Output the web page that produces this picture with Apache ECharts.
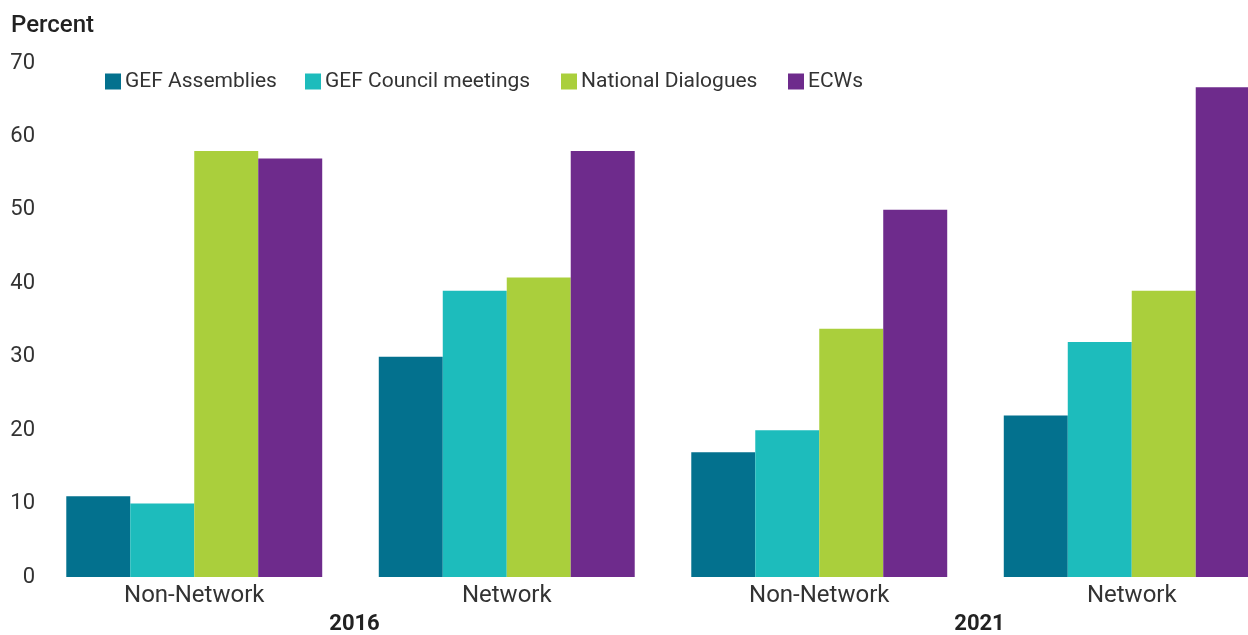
<!DOCTYPE html>
<html>
<head>
<meta charset="utf-8">
<script src="https://cdn.jsdelivr.net/npm/echarts@6/dist/echarts.min.js"></script>
<style>
  html, body { margin: 0; padding: 0; overflow: hidden; background: #fff; }
  #chart { width: 1300px; height: 635px; }
</style>
</head>
<body>
<div id="chart"></div>
<script>
// groups along the x axis, and the year each pair belongs to
const categories = ['Non-Network', 'Network', 'Non-Network', 'Network'];
const years = ['2016', '2021'];
const yTicks = [0, 10, 20, 30, 40, 50, 60, 70];

const gefAssemblies = [11, 30, 17, 22];
const gefCouncil = [10, 39, 20, 32];
const nationalDialogues = [58, 40.8, 33.8, 39];
const ecws = [57, 58, 50, 66.7];

const seriesNames = ['GEF Assemblies', 'GEF Council meetings', 'National Dialogues', 'ECWs'];

const font = 'Roboto, "Noto Sans", sans-serif';
const textColor = '#333';

const chart = echarts.init(document.getElementById('chart'));

function bar(name, data, color) {
  return {
    name: name,
    type: 'bar',
    data: data,
    barGap: '0%',
    barCategoryGap: '18.1%',
    itemStyle: { color: color }
  };
}

// one legend per item so each sits where the original has it
const legendLefts = [105, 305, 561, 788];
const legends = seriesNames.map((n, i) => ({
  left: legendLefts[i],
  top: 71,
  padding: 0,
  itemWidth: 16,
  itemHeight: 16,
  icon: 'rect',
  data: [n],
  textStyle: { fontFamily: font, fontSize: 21, color: textColor, padding: [0, 0, 0, -1] }
}));

chart.setOption({
  animation: false,
  title: {
    text: 'Percent',
    left: 11,
    top: 14,
    padding: 0,
    textStyle: { fontFamily: font, fontSize: 24, fontWeight: 500, color: '#222' }
  },
  legend: legends,
  grid: { left: 38, right: 12, top: 63, bottom: 53 },
  xAxis: [
    {
      type: 'category',
      data: categories,
      axisLine: { show: false },
      axisTick: { show: false },
      axisLabel: { fontFamily: font, fontSize: 24, color: textColor, margin: 7 }
    },
    {
      type: 'category',
      data: years,
      position: 'bottom',
      offset: 36,
      axisLine: { show: false },
      axisTick: { show: false },
      axisLabel: { fontFamily: font, fontSize: 22, fontWeight: 'bold', color: '#222', margin: 0, padding: [0, 0, 0, 8] }
    }
  ],
  yAxis: {
    type: 'value',
    min: yTicks[0],
    max: yTicks[yTicks.length - 1],
    interval: 10,
    splitLine: { show: false },
    axisLine: { show: false },
    axisTick: { show: false },
    axisLabel: { fontFamily: font, fontSize: 22, color: textColor, margin: 3 }
  },
  series: [
    bar(seriesNames[0], gefAssemblies, '#03718E'),
    bar(seriesNames[1], gefCouncil, '#1DBCBC'),
    bar(seriesNames[2], nationalDialogues, '#AACF3C'),
    bar(seriesNames[3], ecws, '#6E2B8C')
  ]
});
</script>
</body>
</html>
